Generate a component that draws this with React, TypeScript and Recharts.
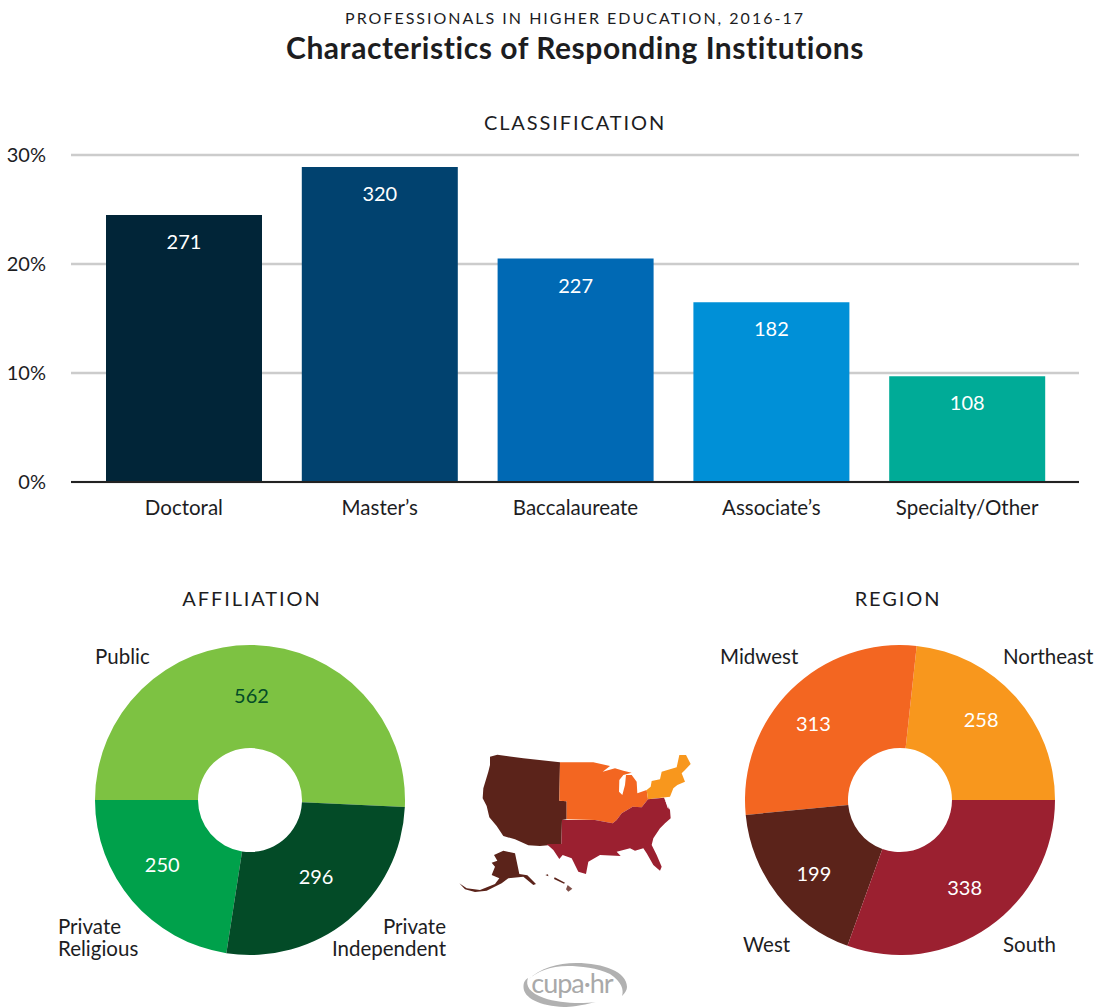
import { BarChart, Bar, XAxis, YAxis, CartesianGrid, ReferenceLine, LabelList, Cell, PieChart, Pie } from "recharts";

const FONT = "Lato, 'Open Sans', sans-serif";
const INK = "#1d1d1f";

const classNames = ["Doctoral", "Master\u2019s", "Baccalaureate", "Associate\u2019s", "Specialty/Other"];
const classPercents = [24.5, 28.9, 20.5, 16.5, 9.7];
const classCounts = [271, 320, 227, 182, 108];
const classColors = ["#012538", "#01426F", "#0069B4", "#0090D7", "#00AB97"];
const percentTicks = [0, 10, 20, 30];

const affiliationNames = ["Public", "Private Religious", "Private Independent"];
const affiliationCounts = [562, 250, 296];
const affiliationColors = ["#7DC242", "#00A14B", "#034B27"];
const affiliationText = ["#034B27", "#fff", "#fff"];

const regionNames = ["Northeast", "Midwest", "West", "South"];
const regionCounts = [258, 313, 199, 338];
const regionColors = ["#F8971D", "#F36621", "#5B231A", "#9B2030"];
const regionText = ["#fff", "#fff", "#fff", "#fff"];

const classData = classNames.map((name, i) => ({ name, pct: classPercents[i], count: classCounts[i] }));
const affiliationData = affiliationNames.map((name, i) => ({ name, value: affiliationCounts[i] }));
const regionData = regionNames.map((name, i) => ({ name, value: regionCounts[i] }));

const RADIAN = Math.PI / 180;

// the original places its slice numbers by hand, so each gets a small nudge
const affiliationNudge = [[-1, 4], [-5, -7], [-3, -8]];
const regionNudge = [[0, -8], [-10, 1], [0, 6], [2, -2]];

const sliceLabel = (colors: string[], nudge: number[][]) => (props: any) => {
  const { cx, cy, midAngle, value, index } = props;
  const r = 109;
  return (
    <text
      x={cx + r * Math.cos(midAngle * RADIAN) + nudge[index][0]}
      y={cy - r * Math.sin(midAngle * RADIAN) + nudge[index][1]}
      textAnchor="middle"
      dominantBaseline="central"
      fontSize={20}
      fontFamily={FONT}
      fill={colors[index]}
    >
      {value}
    </text>
  );
};

const Txt = ({ x, y, size = 20.5, anchor = "center", spacing = 0, weight = 400, children }: any) => (
  <div
    style={{
      position: "absolute",
      left: anchor === "center" ? x - 300 : anchor === "right" ? x - 600 : x,
      top: y,
      width: 600,
      textAlign: anchor,
      fontSize: size,
      letterSpacing: spacing,
      fontWeight: weight,
      lineHeight: "21.5px",
      color: INK,
      whiteSpace: "pre",
    }}
  >
    {children}
  </div>
);

// decorative US map
const UsMap = () => (
  <svg viewBox="0 0 810 831" width={270} height={277} style={{ position: "absolute", left: 440, top: 730 }}>
    <path fill="#5B231A" d="M150,80 L172,74 L250,85 L360,97 L358,212 L380,214 L380,268 L366,270 L364,342 L300,348 L265,346 L225,328 L190,318 L170,288 L148,262 L140,228 L128,205 L130,175 L145,125 L150,105 Z" />
    <path fill="#F36621" d="M360,97 L460,97 L510,108 L488,125 L525,115 L550,122 L575,128 L550,135 L538,150 L537,185 L547,195 L555,165 L558,135 L575,135 L590,155 L592,190 L620,180 L624,208 L605,232 L578,230 L545,250 L530,270 L518,280 L465,270 L380,268 L380,214 L358,212 Z" />
    <path fill="#F8971D" d="M718,75 L738,75 L752,102 L735,120 L725,130 L735,155 L712,165 L700,175 L690,200 L624,208 L620,180 L632,170 L635,153 L660,148 L665,125 L690,118 L710,112 Z" />
    <path fill="#9B2030" d="M366,270 L465,270 L518,280 L530,270 L545,250 L578,230 L605,232 L624,208 L672,203 L680,222 L690,240 L692,265 L675,280 L660,295 L640,325 L635,345 L650,375 L665,410 L660,422 L640,405 L620,370 L610,355 L585,362 L570,355 L530,365 L542,378 L480,375 L445,395 L438,432 L415,425 L395,385 L368,375 L358,387 L340,360 L320,342 L364,342 Z" />
    <path fill="#fff" d="M676,212 L680,214 L687,236 L683,234 Z" />
    <path fill="#5B231A" d="M162,375 L190,362 L225,370 L238,432 L262,436 L288,462 L280,465 L250,440 L205,445 L185,460 L140,482 L105,486 L75,478 L58,460 L80,475 L120,480 L165,462 L178,445 L155,435 L165,410 L155,398 L172,392 Z" />
    <path fill="#5B231A" d="M316,435 L324,433 L325,439 Z M344,442 L375,458 L372,461 L342,447 Z" />
    <path fill="#80504A" d="M383,465 L397,476 L385,485 L378,478 Z" />
  </svg>
);

const Logo = () => (
  <div style={{ position: "absolute", left: 520, top: 960, width: 112, height: 47 }}>
    <svg width={112} height={47} style={{ position: "absolute", left: 0, top: 0 }}>
      <path fill="#b1b1b1" d="M8,20 C20,8 38,3 56,3 C84,3 107,12 107,27 C107,30 105,33 102,36 C104,30 102,22 90,14 C78,8 60,6 48,6 C30,6 16,12 8,20 Z" />
      <path fill="#b1b1b1" d="M3.5,27 C3.5,22 5,20 8,18 C5,26 10,33 24,38 C38,43 60,44 76,42 C60,46 50,47 44,47 C20,46 3.5,38 3.5,27 Z" />
    </svg>
    <div style={{ position: "absolute", left: 0, right: 8, top: 6, textAlign: "center", fontSize: 27, color: "#a9a9a9", letterSpacing: -1, lineHeight: "34px" }}>
      cupa·hr
    </div>
  </div>
);

export default function App() {
  return (
    <div style={{ position: "absolute", left: 0, top: 0, width: 1098, height: 1007, background: "#fff", fontFamily: FONT, overflow: "hidden" }}>
      <Txt x={575} y={7} size={16} spacing={2}>PROFESSIONALS IN HIGHER EDUCATION, 2016-17</Txt>
      <Txt x={575} y={37} size={30} spacing={0.55} weight={700}>Characteristics of Responding Institutions</Txt>
      <Txt x={575} y={112} size={20} spacing={1.9}>CLASSIFICATION</Txt>
      <Txt x={252} y={588} size={20} spacing={1.9}>AFFILIATION</Txt>
      <Txt x={898} y={588} size={20} spacing={1.9}>REGION</Txt>

      <div style={{ position: "absolute", left: 0, top: 140 }}>
        <BarChart width={1098} height={400} data={classData} margin={{ top: 15, right: 19, bottom: 0, left: 0 }}>
          <CartesianGrid horizontal vertical={false} stroke="#cccccc" strokeWidth={2.7} />
          <XAxis
            dataKey="name"
            axisLine={false}
            tickLine={false}
            interval={0}
            padding={{ left: 15, right: 14 }}
            tick={{ fontSize: 20.5, fill: INK, fontFamily: FONT }}
            tickMargin={12}
            height={58}
          />
          <YAxis
            domain={[0, 30]}
            ticks={percentTicks}
            tickFormatter={(v) => `${v}%`}
            axisLine={false}
            tickLine={false}
            tickSize={0}
            tickMargin={25}
            width={71}
            tick={{ fontSize: 20, fill: INK, fontFamily: FONT }}
          />
          <Bar dataKey="pct" isAnimationActive={false} barSize={156}>
            {classData.map((d, i) => (
              <Cell key={d.name} fill={classColors[i]} />
            ))}
            <LabelList dataKey="count" position="insideTop" offset={20} fill="#fff" fontSize={20} fontFamily={FONT} />
          </Bar>
          <ReferenceLine y={0} stroke="#222" strokeWidth={2} />
        </BarChart>
      </div>

      <div style={{ position: "absolute", left: 80, top: 630 }}>
        <PieChart width={340} height={340} margin={{ top: 0, right: 0, bottom: 0, left: 0 }}>
          <Pie
            data={affiliationData}
            dataKey="value"
            cx={170}
            cy={170}
            innerRadius={52}
            outerRadius={155}
            startAngle={-2.6}
            endAngle={357.4}
            stroke="none"
            isAnimationActive={false}
            labelLine={false}
            label={sliceLabel(affiliationText, affiliationNudge)}
          >
            {affiliationData.map((d, i) => (
              <Cell key={d.name} fill={affiliationColors[i]} />
            ))}
          </Pie>
        </PieChart>
      </div>

      <div style={{ position: "absolute", left: 730, top: 630 }}>
        <PieChart width={340} height={340} margin={{ top: 0, right: 0, bottom: 0, left: 0 }}>
          <Pie
            data={regionData}
            dataKey="value"
            cx={170}
            cy={170}
            innerRadius={52}
            outerRadius={155}
            startAngle={0}
            endAngle={360}
            stroke="none"
            isAnimationActive={false}
            labelLine={false}
            label={sliceLabel(regionText, regionNudge)}
          >
            {regionData.map((d, i) => (
              <Cell key={d.name} fill={regionColors[i]} />
            ))}
          </Pie>
        </PieChart>
      </div>

      <Txt x={95} y={646} anchor="left">Public</Txt>
      <Txt x={58} y={916} anchor="left">{"Private\nReligious"}</Txt>
      <Txt x={446} y={916} anchor="right">{"Private\nIndependent"}</Txt>
      <Txt x={720} y={646} anchor="left">Midwest</Txt>
      <Txt x={1003} y={646} anchor="left">Northeast</Txt>
      <Txt x={743} y={934} anchor="left">West</Txt>
      <Txt x={1003} y={934} anchor="left">South</Txt>

      <UsMap />
      <Logo />
    </div>
  );
}
